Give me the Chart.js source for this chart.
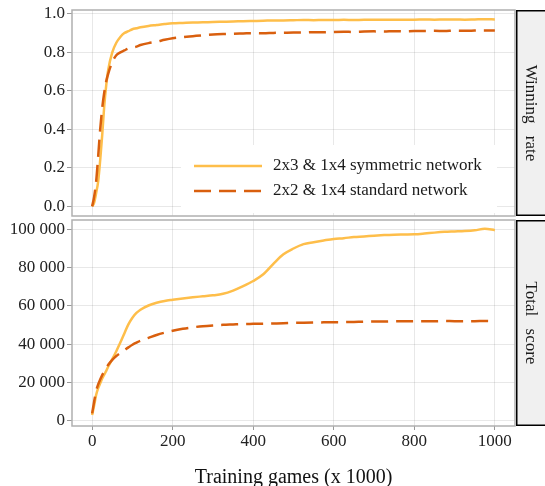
<!DOCTYPE html>
<html>
<head>
<meta charset="utf-8">
<script src="https://cdn.jsdelivr.net/npm/chart.js@4.4.1/dist/chart.umd.min.js"></script>
<style>
  body { margin: 0; background: #fff; }
  #wrap { position: relative; width: 545px; height: 486px; overflow: hidden; }
  canvas { position: absolute; left: 0; }
  #top { top: 0; }
  #bottom { top: 218px; }
</style>
</head>
<body>
<div id="wrap">
  <canvas id="top" width="545" height="218"></canvas>
  <canvas id="bottom" width="545" height="270"></canvas>
</div>
<script>
// Training games (x 1000)
const games = [0, 5, 10, 15, 20, 25, 30, 35, 40, 50, 60, 70, 80, 90, 100, 110, 120, 140, 160, 180,
    200, 225, 250, 275, 300, 325, 350, 375, 400, 425, 450, 475, 500, 525, 550, 575, 600, 625, 650,
    675, 700, 725, 750, 775, 800, 825, 850, 875, 900, 925, 950, 975, 1000];

const winSymmetric = [0.0, 0.02, 0.07, 0.13, 0.24, 0.37, 0.52, 0.63, 0.71, 0.80, 0.85, 0.88, 0.90, 0.91, 0.92,
    0.925, 0.93, 0.937, 0.942, 0.947, 0.951, 0.953, 0.955, 0.956, 0.958, 0.959, 0.960, 0.962, 0.963,
    0.964, 0.966, 0.966, 0.967, 0.968, 0.967, 0.968, 0.968, 0.969, 0.968, 0.969, 0.969, 0.970, 0.969,
    0.970, 0.970, 0.971, 0.970, 0.971, 0.971, 0.970, 0.971, 0.972, 0.971];

const winStandard = [0.0, 0.05, 0.13, 0.26, 0.40, 0.51, 0.59, 0.65, 0.69, 0.75, 0.785, 0.80, 0.81, 0.82, 0.825,
    0.83, 0.838, 0.848, 0.855, 0.865, 0.873, 0.879, 0.884, 0.889, 0.893, 0.895, 0.896, 0.898, 0.900,
    0.899, 0.901, 0.902, 0.903, 0.903, 0.905, 0.904, 0.906, 0.907, 0.906, 0.908, 0.909, 0.908, 0.910,
    0.909, 0.911, 0.911, 0.912, 0.911, 0.913, 0.912, 0.913, 0.914, 0.914];

const scoreSymmetric = [3000, 8000, 13500, 17000, 19500, 22000, 24000, 26000, 28300, 32200, 36300, 40800,
    45600, 50300, 53800, 56300, 58000, 60200, 61600, 62600, 63200, 63900, 64500, 65000, 65500, 66300,
    68000, 70300, 73000, 76500, 82000, 87000, 90000, 92300, 93300, 94200, 95000, 95400, 96000, 96300,
    96700, 97000, 97200, 97300, 97400, 97800, 98300, 98700, 98900, 99100, 99500, 100300, 99600];

const scoreStandard = [3800, 10000, 15500, 19000, 21500, 23800, 25800, 27500, 29200, 31800, 33800, 35300,
    36800, 38300, 39700, 40800, 41800, 43300, 44800, 46000, 47000, 48000, 48800, 49400, 49800, 50100,
    50300, 50500, 50600, 50700, 50800, 50900, 51100, 51200, 51300, 51400, 51500, 51500, 51600, 51700,
    51800, 51800, 51900, 51900, 52000, 52000, 52000, 52100, 52000, 52000, 52000, 52100, 52000];

const xTicks = [0, 200, 400, 600, 800, 1000];
const winTicks = [0, 0.2, 0.4, 0.6, 0.8, 1.0];
const scoreTicks = [0, 20000, 40000, 60000, 80000, 100000];

const seriesNames = ['2x3 & 1x4 symmetric network', '2x2 & 1x4 standard network'];
const seriesColors = ['#FEBE4A', '#D95F0E'];
const dashStyle = [17, 8];

const FONT = "'Liberation Serif', 'Times New Roman', serif";

function points(ys) {
    return games.map((g, i) => ({ x: g, y: ys[i] }));
}

function thousands(v) {
    return String(v).replace(/\B(?=(\d{3})+(?!\d))/g, ' ');
}

// panel border + facet strip on the right
function panelPlugin(label) {
    return {
        id: 'panel',
        afterDraw(chart) {
            const { ctx, chartArea: a } = chart;
            ctx.save();
            ctx.strokeStyle = '#b0b0b0';
            ctx.lineWidth = 1.5;
            ctx.strokeRect(a.left, a.top, a.right - a.left, a.bottom - a.top);

            ctx.fillStyle = '#f0f0f0';
            ctx.fillRect(a.right + 1, a.top, 40, a.bottom - a.top);
            ctx.strokeStyle = '#000';
            ctx.lineWidth = 1.5;
            ctx.strokeRect(a.right + 1.75, a.top + 0.75, 40, a.bottom - a.top - 1.5);

            ctx.translate(a.right + 15, (a.top + a.bottom) / 2);
            ctx.rotate(Math.PI / 2);
            ctx.fillStyle = '#1a1a1a';
            ctx.font = '17px ' + FONT;
            ctx.textAlign = 'center';
            ctx.textBaseline = 'middle';
            ctx.wordSpacing = '8px';
            ctx.fillText(label, 0, 0);
            ctx.restore();
        }
    };
}

const legendPlugin = {
    id: 'insideLegend',
    afterDatasetsDraw(chart) {
        const { ctx, chartArea: a } = chart;
        const left = a.right - 334, right = a.right - 18;
        const top = a.bottom - 71, bottom = a.bottom - 3;
        ctx.save();
        ctx.fillStyle = '#fff';
        ctx.fillRect(left, top, right - left, bottom - top);
        ctx.font = '17px ' + FONT;
        ctx.textBaseline = 'middle';
        ctx.lineWidth = 2.5;
        seriesNames.forEach((name, i) => {
            const y = a.bottom - 50 + i * 25;
            ctx.strokeStyle = seriesColors[i];
            ctx.setLineDash(i === 1 ? dashStyle : []);
            ctx.beginPath();
            ctx.moveTo(left + 13, y);
            ctx.lineTo(left + 81, y);
            ctx.stroke();
            ctx.fillStyle = '#1a1a1a';
            ctx.fillText(name, left + 92, y);
        });
        ctx.restore();
    }
};

function makeDatasets(sym, std) {
    return [
        {
            label: seriesNames[0],
            data: points(sym),
            borderColor: seriesColors[0],
            borderWidth: 2.5,
            pointRadius: 0,
            cubicInterpolationMode: 'monotone',
            order: 1
        },
        {
            label: seriesNames[1],
            data: points(std),
            borderColor: seriesColors[1],
            borderWidth: 2.5,
            borderDash: dashStyle,
            pointRadius: 0,
            cubicInterpolationMode: 'monotone',
            order: 0
        }
    ];
}

const gridStyle = {
    color: 'rgba(0,0,0,0.09)',
    lineWidth: 1,
    tickColor: '#999',
    tickLength: 5
};

function yScale(min, max, ticks, fmt) {
    return {
        type: 'linear',
        min: min,
        max: max,
        afterFit: (s) => {
            s.width = 72;
            s.paddingTop = 0;
            s.paddingBottom = 0;
        },
        afterBuildTicks: (s) => { s.ticks = ticks.map(v => ({ value: v })); },
        grid: gridStyle,
        border: { display: false },
        ticks: {
            padding: 2,
            color: '#222',
            font: { family: FONT, size: 17, lineHeight: 1 },
            callback: fmt
        }
    };
}

const topChart = new Chart(document.getElementById('top'), {
    type: 'line',
    data: { datasets: makeDatasets(winSymmetric, winStandard) },
    options: {
        responsive: false,
        animation: false,
        layout: { padding: { top: 10, right: 30, bottom: 2, left: 0 } },
        scales: {
            x: {
                type: 'linear',
                min: -50,
                max: 1050,
                afterFit: (s) => {
                    s.height = 0;
                    s.paddingLeft = 0;
                    s.paddingRight = 0;
                },
                afterBuildTicks: (s) => { s.ticks = xTicks.map(v => ({ value: v })); },
                grid: { color: 'rgba(0,0,0,0.09)', drawTicks: false },
                border: { display: false },
                ticks: { display: false }
            },
            y: yScale(-0.05, 1.02, winTicks, (v) => v.toFixed(1))
        },
        plugins: {
            legend: { display: false },
            tooltip: { enabled: false }
        }
    },
    plugins: [panelPlugin('Winning rate'), legendPlugin]
});

const bottomChart = new Chart(document.getElementById('bottom'), {
    type: 'line',
    data: { datasets: makeDatasets(scoreSymmetric, scoreStandard) },
    options: {
        responsive: false,
        animation: false,
        layout: { padding: { top: 2, right: 30, bottom: 0, left: 0 } },
        scales: {
            x: {
                type: 'linear',
                min: -50,
                max: 1050,
                afterFit: (s) => {
                    s.height = 62;
                    s.paddingLeft = 0;
                    s.paddingRight = 0;
                },
                afterBuildTicks: (s) => { s.ticks = xTicks.map(v => ({ value: v })); },
                grid: { color: 'rgba(0,0,0,0.09)', tickColor: '#999', tickLength: 4 },
                border: { display: false },
                ticks: {
                    padding: 3,
                    color: '#222',
                    maxRotation: 0,
                    font: { family: FONT, size: 17, lineHeight: 1 },
                    callback: (v) => String(v)
                },
                title: {
                    display: true,
                    text: 'Training games (x 1000)',
                    color: '#111',
                    padding: { top: 0, bottom: 0 },
                    font: { family: FONT, size: 20, lineHeight: 1 }
                }
            },
            y: yScale(-2800, 104900, scoreTicks, thousands)
        },
        plugins: {
            legend: { display: false },
            tooltip: { enabled: false }
        }
    },
    plugins: [panelPlugin('Total score')]
});
</script>
</body>
</html>
